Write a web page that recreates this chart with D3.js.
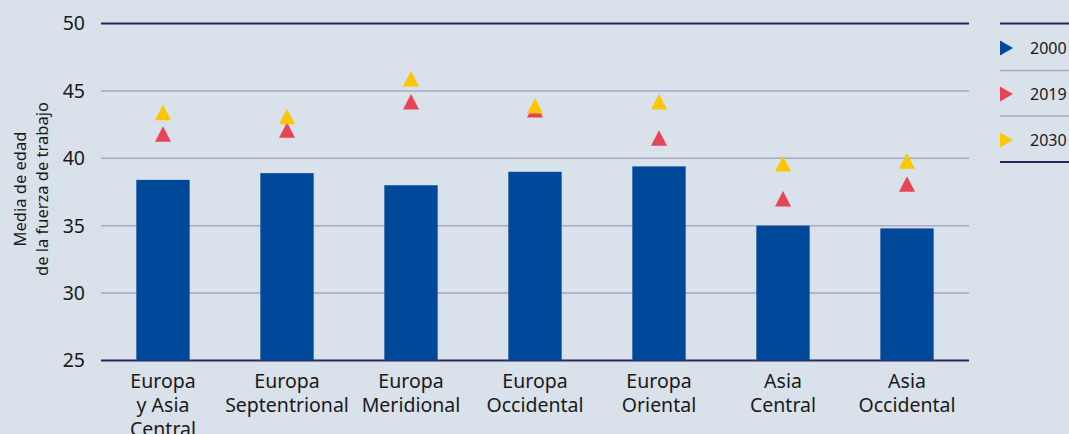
<!DOCTYPE html>
<html>
<head>
<meta charset="utf-8">
<script src="https://cdn.jsdelivr.net/npm/d3@7"></script>
<style>
  html, body { margin: 0; padding: 0; background: #d9e1ea; }
  svg { display: block; font-family: "Noto Sans", "Open Sans", sans-serif; }
</style>
</head>
<body>
<svg id="chart" width="1069" height="434"></svg>
<script>
// Regions (label lines) and median labour-force age per year
const categories = [
  ["Europa", "y Asia", "Central"],
  ["Europa", "Septentrional"],
  ["Europa", "Meridional"],
  ["Europa", "Occidental"],
  ["Europa", "Oriental"],
  ["Asia", "Central"],
  ["Asia", "Occidental"]
];
const values2000 = [38.4, 38.9, 38.0, 39.0, 39.4, 35.0, 34.8];
const values2019 = [41.8, 42.1, 44.2, 43.6, 41.5, 37.0, 38.1];
const values2030 = [43.4, 43.1, 45.9, 43.9, 44.2, 39.6, 39.8];
const yTicks = [25, 30, 35, 40, 45, 50];
const legendYears = ["2000", "2019", "2030"];

const colors = { "2000": "#00489a", "2019": "#e64457", "2030": "#fec600" };

const svg = d3.select("#chart");
const plotLeft = 101, plotRight = 969, plotTop = 23.5, plotBottom = 360.5;

const x = d3.scaleBand()
  .domain(d3.range(categories.length))
  .range([plotLeft, plotRight])
  .paddingInner(0.57)
  .paddingOuter(0.285);

const y = d3.scaleLinear().domain([25, 50]).range([plotBottom, plotTop]);

// Gridlines
svg.append("g")
  .selectAll("line")
  .data(yTicks)
  .join("line")
  .attr("x1", plotLeft).attr("x2", plotRight)
  .attr("y1", d => y(d)).attr("y2", d => y(d))
  .attr("stroke", d => (d === 25 || d === 50) ? "#2b2859" : "#a9a7c1")
  .attr("stroke-width", d => (d === 25 || d === 50) ? 2 : 1.5);

// Y tick labels
svg.append("g")
  .selectAll("text")
  .data(yTicks)
  .join("text")
  .attr("x", 85)
  .attr("y", d => y(d))
  .attr("dy", "0.35em")
  .attr("text-anchor", "end")
  .attr("font-size", 19.5)
  .attr("fill", "#1a1a1a")
  .text(d => d);

// Y axis title
const yTitle = svg.append("text")
  .attr("transform", "translate(31," + ((plotTop + plotBottom) / 2 - 3) + ") rotate(-90)")
  .attr("text-anchor", "middle")
  .attr("font-size", 16.5)
  .attr("fill", "#1a1a1a");
yTitle.append("tspan").attr("x", 0).attr("y", -5).text("Media de edad");
yTitle.append("tspan").attr("x", 0).attr("y", 17).text("de la fuerza de trabajo");

// Bars for 2000
svg.append("g")
  .selectAll("rect")
  .data(values2000)
  .join("rect")
  .attr("x", (d, i) => x(i))
  .attr("width", x.bandwidth())
  .attr("y", d => y(d))
  .attr("height", d => y(25) - y(d))
  .attr("fill", colors["2000"]);

// Triangle markers, centred on the value
function triPath(cx, cy, w, h) {
  return `M${cx},${cy - h / 2}L${cx + w / 2},${cy + h / 2}L${cx - w / 2},${cy + h / 2}Z`;
}
function rightTri(cx, cy, w, h) {
  return `M${cx + w / 2},${cy}L${cx - w / 2},${cy + h / 2}L${cx - w / 2},${cy - h / 2}Z`;
}

[["2019", values2019], ["2030", values2030]].forEach(([yr, vals]) => {
  svg.append("g")
    .selectAll("path")
    .data(vals)
    .join("path")
    .attr("d", (d, i) => triPath(x(i) + x.bandwidth() / 2, y(d), 16, 15.5))
    .attr("fill", colors[yr]);
});

// X category labels
const xl = svg.append("g")
  .selectAll("text")
  .data(categories)
  .join("text")
  .attr("x", (d, i) => x(i) + x.bandwidth() / 2)
  .attr("y", 388)
  .attr("text-anchor", "middle")
  .attr("font-size", 19.5)
  .attr("fill", "#1a1a1a");
xl.each(function (lines) {
  const t = d3.select(this);
  lines.forEach((ln, k) => {
    t.append("tspan")
      .attr("x", t.attr("x"))
      .attr("dy", k === 0 ? 0 : 24)
      .text(ln);
  });
});

// Legend
const legX = 1000;
const legLines = [23.5, 70.5, 116, 162];
svg.append("g")
  .selectAll("line")
  .data(legLines)
  .join("line")
  .attr("x1", legX).attr("x2", 1069)
  .attr("y1", d => d).attr("y2", d => d)
  .attr("stroke", (d, i) => (i === 0 || i === legLines.length - 1) ? "#2b2859" : "#a9a7c1")
  .attr("stroke-width", (d, i) => (i === 0 || i === legLines.length - 1) ? 2 : 1.5);

const legY = [48, 94, 140];
const leg = svg.append("g")
  .selectAll("g")
  .data(legendYears)
  .join("g");
leg.append("path")
  .attr("d", (d, i) => rightTri(legX + 6.5, legY[i], 13, 15))
  .attr("fill", d => colors[d]);
leg.append("text")
  .attr("x", 1030)
  .attr("y", (d, i) => legY[i])
  .attr("dy", "0.35em")
  .attr("font-size", 16)
  .attr("fill", "#1a1a1a")
  .text(d => d);
</script>
</body>
</html>
